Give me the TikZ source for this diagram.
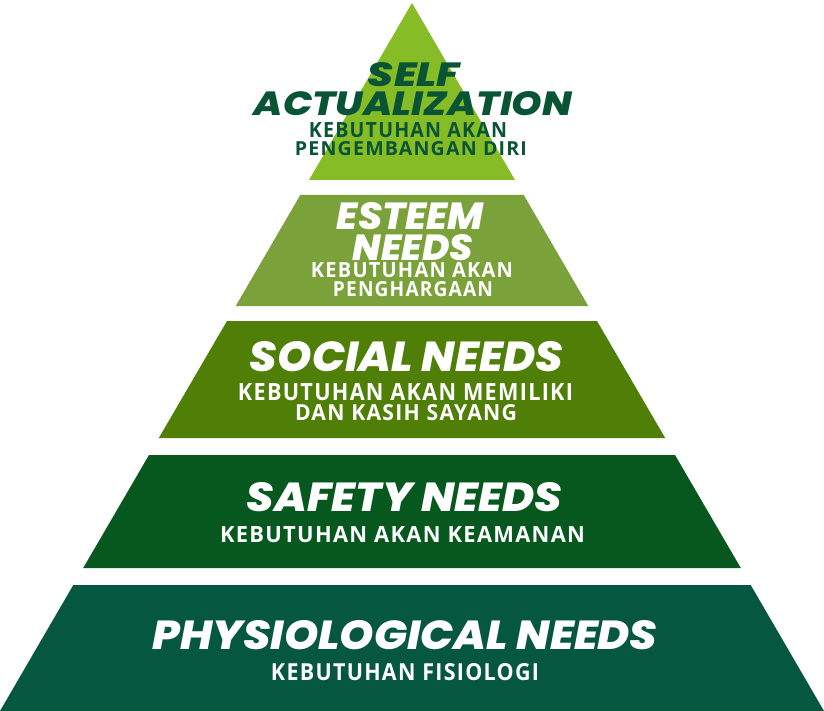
\documentclass[tikz,border=0pt]{standalone}
\usepackage{fontspec}
\usepackage{graphicx}
\newfontfamily\headfont{Poppins}[BoldItalicFont={Poppins ExtraBold Italic}]
\newfontfamily\subfont{Open Sans}[LetterSpace=6]
\definecolor{lvA}{RGB}{134,189,38}
\definecolor{lvB}{RGB}{123,161,59}
\definecolor{lvC}{RGB}{79,127,7}
\definecolor{lvD}{RGB}{6,88,30}
\definecolor{lvE}{RGB}{5,87,63}
\definecolor{darktxt}{RGB}{9,84,52}
\newcommand{\fitbox}[3]{\resizebox{#1pt}{#2pt}{#3}}
\tikzset{
  head/.style={inner sep=0pt, anchor=south, font=\headfont\bfseries\itshape},
  subt/.style={inner sep=0pt, anchor=south, font=\subfont\bfseries},
  wtxt/.style={text=white},
  dtxt/.style={text=darktxt}
}
\begin{document}
\begin{tikzpicture}[x=1pt,y=-1pt]
\useasboundingbox (0,0) rectangle (824,711);
% levels
\fill[lvA] (412,3) -- (515,180) -- (309,180) -- cycle;
\fill[lvB] (300.3,195) -- (523.7,195) -- (588.3,306) -- (235.7,306) -- cycle;
\fill[lvC] (227,321) -- (597,321) -- (665.2,438) -- (158.8,438) -- cycle;
\fill[lvD] (149,455) -- (675,455) -- (740.8,568) -- (83.2,568) -- cycle;
\fill[lvE] (73.3,585) -- (750.7,585) -- (824,711) -- (0,711) -- cycle;
% level 1
\node[head,dtxt] (selfA) at (414,87) {\fitbox{92}{24}{SELF}};
\node[head,dtxt] (selfB) at (413,116) {\fitbox{318}{24}{ACTUALIZATION}};
\node[subt,dtxt] (selfC) at (408,138) {\fitbox{198}{15}{KEBUTUHAN AKAN}};
\node[subt,dtxt] (selfD) at (411,156) {\fitbox{232}{14}{PENGEMBANGAN DIRI}};
% level 2
\node[head,wtxt] (estA) at (410.5,230) {\fitbox{147}{27}{ESTEEM}};
\node[head,wtxt] (estB) at (413,261) {\fitbox{120}{26}{NEEDS}};
\node[subt,wtxt] (estC) at (412,278) {\fitbox{202}{15}{KEBUTUHAN AKAN}};
\node[subt,wtxt] (estD) at (413,297) {\fitbox{160}{15}{PENGHARGAAN}};
% level 3
\node[head,wtxt] (socA) at (406.5,372) {\fitbox{313}{30}{SOCIAL\ NEEDS}};
\node[subt,wtxt] (socB) at (405.5,401) {\fitbox{335}{17}{KEBUTUHAN AKAN MEMILIKI}};
\node[subt,wtxt] (socC) at (406,421) {\fitbox{222}{16}{DAN KASIH SAYANG}};
% level 4
\node[head,wtxt] (safA) at (404.5,512) {\fitbox{315}{29}{SAFETY\ NEEDS}};
\node[subt,wtxt] (safB) at (402.5,543) {\fitbox{365}{16}{KEBUTUHAN AKAN KEAMANAN}};
% level 5
\node[head,wtxt] (phyA) at (405,650) {\fitbox{505}{29}{PHYSIOLOGICAL\ NEEDS}};
\node[subt,wtxt] (phyB) at (405,681) {\fitbox{268}{17}{KEBUTUHAN FISIOLOGI}};
\end{tikzpicture}
\end{document}
